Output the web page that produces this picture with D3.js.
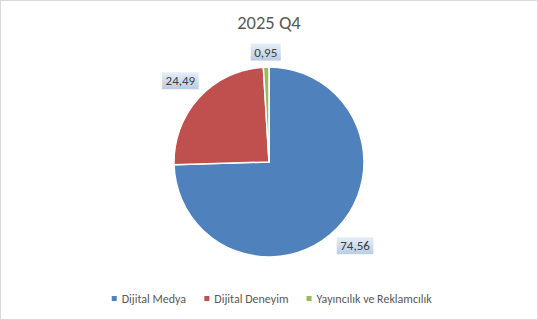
<!DOCTYPE html>
<html>
<head>
<meta charset="utf-8">
<script src="https://cdn.jsdelivr.net/npm/d3@7"></script>
<style>
  body { margin: 0; background: #fff; }
  svg text { font-family: Carlito, Calibri, Lato, sans-serif; }
</style>
</head>
<body>
<div id="chart"></div>
<script>
// data
const title = "2025 Q4";
const categories = ["Dijital Medya", "Dijital Deneyim", "Yayıncılık ve Reklamcılık"];
const values = [74.56, 24.49, 0.95];
const colors = ["#4F81BD", "#C0504D", "#9BBB59"];

const W = 538, H = 320;
const cx = 269, cy = 162, radius = 95;

const svg = d3.select("#chart").append("svg")
    .attr("width", W).attr("height", H);

// gradient for label boxes
let defs = svg.append("defs");
let grad = defs.append("linearGradient").attr("id", "lblGrad")
    .attr("x1", 0).attr("y1", 0).attr("x2", 0).attr("y2", 1);
grad.append("stop").attr("offset", "0%").attr("stop-color", "#e6eef8");
grad.append("stop").attr("offset", "100%").attr("stop-color", "#b9cde5");

svg.append("rect")
    .attr("x", 0.5).attr("y", 0.5).attr("width", W - 1).attr("height", H - 1)
    .attr("fill", "#fff").attr("stroke", "#d9d9d9");

svg.append("text")
    .attr("x", cx).attr("y", 29)
    .attr("text-anchor", "middle")
    .attr("font-size", 18.5)
    .attr("fill", "#595959")
    .text(title);

let pieData = d3.pie().sort(null)(values);
let arc = d3.arc().innerRadius(0).outerRadius(radius);

let g = svg.append("g").attr("transform", "translate(" + cx + "," + cy + ")");
g.selectAll("path.slice")
    .data(pieData)
    .enter().append("path")
    .attr("class", "slice")
    .attr("d", arc)
    .attr("fill", (d, i) => colors[i])
    .attr("stroke", "#fff")
    .attr("stroke-width", 1.5);

// labels, outside end
let fmt = v => v.toFixed(2).replace(".", ",");
let labels = g.selectAll("g.lbl").data(pieData).enter().append("g").attr("class", "lbl");
labels.each(function (d) {
    let lg = d3.select(this);
    let t = lg.append("text")
        .attr("font-size", 13)
        .attr("fill", "#404040")
        .attr("text-anchor", "middle")
        .attr("dy", "0.35em")
        .text(fmt(d.data));
    let tw = t.node().getComputedTextLength();
    let bw = tw + 7, bh = 17;
    let a = (d.startAngle + d.endAngle) / 2;
    let dx = Math.sin(a), dy = -Math.cos(a);
    let dist = radius + 6 + (bw / 2 * Math.abs(dx) + bh / 2 * Math.abs(dy));
    lg.attr("transform", "translate(" + (dx * dist) + "," + (dy * dist) + ")");
    lg.insert("rect", "text")
        .attr("x", -bw / 2).attr("y", -bh / 2)
        .attr("width", bw).attr("height", bh)
        .attr("fill", "url(#lblGrad)");
});

// legend
let legend = svg.append("g");
let items = legend.selectAll("g").data(categories).enter().append("g");
items.append("rect")
    .attr("width", 5).attr("height", 5)
    .attr("y", -4)
    .attr("fill", (d, i) => colors[i]);
items.append("text")
    .attr("x", 10)
    .attr("y", 0)
    .attr("dy", "0.25em")
    .attr("font-size", 12)
    .attr("fill", "#595959")
    .text(d => d);
let xpos = 0;
items.each(function () {
    let w = this.getBBox().width;
    d3.select(this).attr("transform", "translate(" + xpos + ",0)");
    xpos += w + 18;
});
let total = xpos - 18;
legend.attr("transform", "translate(" + (272 - total / 2) + ",300)");
</script>
</body>
</html>
